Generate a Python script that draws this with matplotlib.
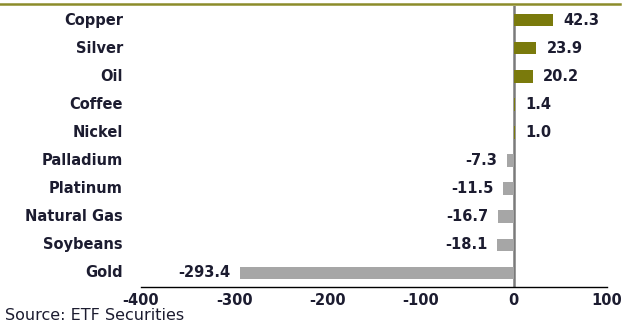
import matplotlib
matplotlib.use("Agg")
import matplotlib.pyplot as plt

categories = ["Copper", "Silver", "Oil", "Coffee", "Nickel", "Palladium",
              "Platinum", "Natural Gas", "Soybeans", "Gold"]
values = [42.3, 23.9, 20.2, 1.4, 1.0, -7.3, -11.5, -16.7, -18.1, -293.4]
xticks = [-400, -300, -200, -100, 0, 100]

plt.rcParams['font.family'] = ['DejaVu Sans']

W, H = 623, 324
fig = plt.figure(figsize=(W / 100, H / 100), dpi=100)
left, right, top, bottom = 141, 607, 6, 287
ax = fig.add_axes([left / W, 1 - bottom / H, (right - left) / W, (bottom - top) / H])

pos_color = "#7A7A0C"
neg_color = "#A6A6A6"
txt_color = "#1c1c30"
fs = 10.5
colors = [pos_color if v >= 0 else neg_color for v in values]
y = list(range(len(categories)))
ax.barh(y, values, height=0.45, color=colors, zorder=3)
ax.set_ylim(len(categories) - 0.5, -0.5)
ax.set_xlim(-400, 100)

for yi, v in zip(y, values):
    if v >= 0:
        ax.annotate(f"{v:.1f}", (v, yi), xytext=(7.5, 0), textcoords="offset points",
                    ha="left", va="center", fontsize=fs, fontweight="bold", color=txt_color)
    else:
        ax.annotate(f"{v:.1f}", (v, yi), xytext=(-7, 0), textcoords="offset points",
                    ha="right", va="center", fontsize=fs, fontweight="bold", color=txt_color)

for yi, c in zip(y, categories):
    ax.annotate(c, (123 / W, yi), xycoords=("figure fraction", "data"),
                ha="right", va="center", fontsize=fs, fontweight="bold", color=txt_color)

ax.axvline(0, color="#7a7a7a", lw=1.8, zorder=2)
for s in ["top", "right", "left"]:
    ax.spines[s].set_visible(False)
ax.spines["bottom"].set_color("black")
ax.spines["bottom"].set_linewidth(1.0)
ax.set_yticks([])
ax.set_xticks(xticks)
ax.set_xticklabels([str(t) for t in xticks], fontsize=fs, fontweight="bold", color=txt_color)
ax.tick_params(axis="x", length=0, pad=4)

fig.add_artist(plt.Line2D([0, 620 / W], [1 - 3.5 / H, 1 - 3.5 / H], color="#8C8C2A", lw=1.8))
fig.text(5 / W, 1 - 320 / H, "Source: ETF Securities", fontsize=11.5, color=txt_color,
         ha="left", va="baseline")

fig.savefig("out.png", dpi=100)
